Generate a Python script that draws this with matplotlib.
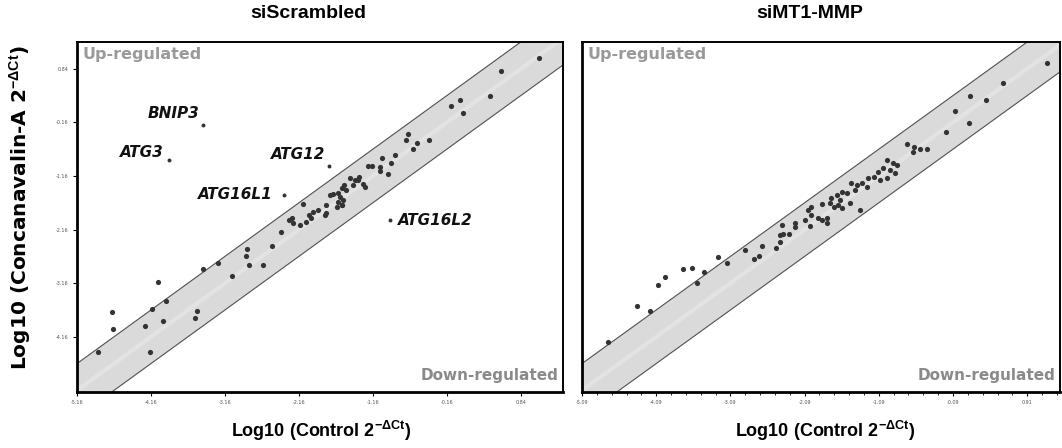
import numpy as np
import matplotlib
matplotlib.use("Agg")
import matplotlib.pyplot as plt
from matplotlib.ticker import FixedLocator

# ---- data (log10 2^-dCt) ----
# siScrambled: points inside / near the band
scr_x = [1.08, 0.57, -0.11, 0.02, 0.06, 0.43, -0.68, -0.71, -0.56, -0.40, -0.62,
         -0.86, -1.03, -0.91, -1.07, -1.22, -1.17, -1.07, -0.96,
         -1.35, -1.40, -1.47, -1.29, -1.27, -1.55, -1.58, -1.52, -1.63, -1.70,
         -1.61, -1.56, -1.74, -1.58, -1.65, -1.43, -1.36,
         -2.10, -1.79, -1.63, -1.58, -2.26, -2.30, -2.24, -2.15, -2.06, -2.03,
         -1.97, -1.90, -1.99, -1.81, -1.79, -2.40, -2.52, -2.86, -2.87, -2.84,
         -2.65, -3.07, -3.26, -3.45, -4.06, -3.95, -4.14, -4.69, -4.67, -4.24,
         -4.00, -3.54, -3.56, -4.87, -4.17]
scr_y = [1.05, 0.80, 0.15, 0.26, 0.01, 0.33, -0.38, -0.49, -0.54, -0.49, -0.66,
         -0.77, -0.82, -0.91, -0.99, -0.97, -0.97, -1.06, -1.13,
         -1.17, -1.24, -1.20, -1.31, -1.36, -1.33, -1.39, -1.42, -1.48, -1.50,
         -1.55, -1.61, -1.51, -1.70, -1.73, -1.33, -1.24,
         -1.68, -1.70, -1.64, -1.70, -1.95, -1.98, -2.04, -2.07, -2.01, -1.89,
         -1.83, -1.80, -1.95, -1.89, -1.85, -2.20, -2.46, -2.52, -2.65, -2.82,
         -2.82, -3.03, -2.79, -2.90, -3.13, -3.49, -3.64, -3.70, -4.02, -3.95,
         -3.87, -3.68, -3.81, -4.44, -4.44]

# siScrambled: labelled genes
gene_names = ["BNIP3", "ATG3", "ATG12", "ATG16L1", "ATG16L2"]
gene_x = [-3.45, -3.91, -1.75, -2.36, -0.93]
gene_y = [-0.21, -0.87, -0.97, -1.51, -1.99]

# siMT1-MMP
mmp_x = [1.17, 0.59, 0.14, 0.36, -0.06, 0.13, -0.18, -0.71, -0.62, -0.53, -0.44, -0.63,
         -0.98, -0.90, -0.85, -1.03, -0.94, -0.87, -1.10, -1.16, -1.07, -0.98,
         -1.23, -1.32, -1.25, -1.39, -1.46, -1.41, -1.52, -1.59, -1.66, -1.61,
         -1.73, -1.48, -1.75, -1.86, -1.34, -2.00, -1.70, -1.64, -1.59,
         -2.04, -2.00, -1.91, -1.79, -1.79, -2.08, -2.02, -1.86, -2.22, -2.22,
         -2.30, -2.38, -2.42, -2.40, -2.42, -2.47, -2.67, -2.70, -2.77, -2.89,
         -3.14, -3.26, -3.45, -3.54, -3.61, -3.73, -3.97, -4.06, -4.35, -4.18, -4.74]
mmp_y = [1.01, 0.64, 0.40, 0.33, 0.13, -0.11, -0.27, -0.50, -0.54, -0.59, -0.59, -0.64,
         -0.79, -0.85, -0.88, -0.95, -0.98, -1.03, -1.01, -1.10, -1.16, -1.13,
         -1.13, -1.22, -1.29, -1.26, -1.23, -1.35, -1.41, -1.38, -1.44, -1.54,
         -1.51, -1.60, -1.60, -1.61, -1.72, -1.66, -1.66, -1.63, -1.68,
         -1.72, -1.82, -1.88, -1.88, -1.96, -1.91, -2.02, -1.91, -1.97, -2.05,
         -2.17, -2.17, -2.19, -2.00, -2.33, -2.44, -2.40, -2.58, -2.64, -2.47,
         -2.72, -2.60, -2.88, -3.09, -2.81, -2.83, -2.97, -3.12, -3.52, -3.60, -4.18]

scr_ticks = [-5.16, -4.16, -3.16, -2.16, -1.16, -0.16, 0.84]
mmp_ticks = [-5.09, -4.09, -3.09, -2.09, -1.09, -0.09, 0.91]
band = 0.5  # fold-change boundary in log10 units

titles = ["siScrambled", "siMT1-MMP"]

plt.rcParams['mathtext.fontset'] = 'custom'
plt.rcParams['mathtext.rm'] = 'Liberation Sans'
plt.rcParams['mathtext.bf'] = 'Liberation Sans:bold'
plt.rcParams['mathtext.it'] = 'Liberation Sans:italic'

fig = plt.figure(figsize=(10.62, 4.48), dpi=100)
ax1 = fig.add_axes([0.0725, 0.125, 0.4576, 0.7813])
ax2 = fig.add_axes([0.548, 0.125, 0.450, 0.7813])


def draw_panel(ax, xs, ys, ticks, xlim, ylim, show_y):
    ax.set_xlim(xlim)
    ax.set_ylim(ylim)
    lo = min(xlim[0], ylim[0]) - 1
    hi = max(xlim[1], ylim[1]) + 1
    line = np.array([lo, hi])
    ax.fill_between(line, line - band, line + band, color='#dadada', lw=0, zorder=1)
    ax.plot(line, line, color='#e3e3e3', lw=3, zorder=1.5)
    ax.plot(line, line + band, color='#505050', lw=0.8, zorder=2)
    ax.plot(line, line - band, color='#505050', lw=0.8, zorder=2)
    ax.scatter(xs, ys, s=14, color='#333333', lw=0, zorder=3)

    ax.set_xticks(ticks)
    ax.set_xticklabels(['%.2f' % t for t in ticks])
    if show_y:
        ax.set_yticks(ticks[1:])
        ax.set_yticklabels(['%.2f' % t for t in ticks[1:]])
    else:
        ax.set_yticks([])
    ax.tick_params(labelsize=3.5, labelcolor='#555555', length=3, width=0.8, pad=3)
    for side in ['left', 'bottom']:
        ax.spines[side].set_linewidth(2.0)
    for side in ['top', 'right']:
        ax.spines[side].set_linewidth(1.4)

    ax.text(0.012, 0.985, 'Up-regulated', transform=ax.transAxes, ha='left', va='top',
            fontsize=11.5, fontweight='bold', color='#9a9a9a', family='DejaVu Sans')
    ax.text(0.99, 0.025, 'Down-regulated', transform=ax.transAxes, ha='right', va='bottom',
            fontsize=11, fontweight='bold', color='#8a8a8a', family='DejaVu Sans')


draw_panel(ax1, scr_x, scr_y, scr_ticks, (-5.16, 1.41), (-5.19, 1.34), True)
draw_panel(ax2, mmp_x, mmp_y, mmp_ticks, (-5.09, 1.35), (-5.12, 1.41), False)

ax2.xaxis.set_minor_locator(FixedLocator(np.arange(-5.09, 1.35, 0.2)))
ax2.tick_params(axis='x', which='minor', length=2, width=0.6)

# gene labels on the siScrambled panel
ax1.scatter(gene_x, gene_y, s=8, color='#333333', lw=0, zorder=3)
offsets = [(-3, 8, 'right'), (-4, 6, 'right'), (-3, 8, 'right'), (-8, 0, 'right'), (6, 0, 'left')]
for name, gx, gy, (dx, dy, ha) in zip(gene_names, gene_x, gene_y, offsets):
    ax1.annotate(name, (gx, gy), xytext=(dx, dy), textcoords='offset points',
                 ha=ha, va='center', fontsize=11, fontweight='bold', style='italic',
                 family='DejaVu Sans', color='#111111')

fig.text(308 / 1062, 1 - 14 / 448, titles[0], ha='center', va='center',
         fontsize=14, fontweight='bold', family='Liberation Sans')
fig.text(810 / 1062, 1 - 14 / 448, titles[1], ha='center', va='center',
         fontsize=14, fontweight='bold', family='Liberation Sans')

xlab = r'Log10 (Control 2$^{\mathbf{-\Delta Ct}}$)'
for cx in [321, 825]:
    fig.text(cx / 1062, 1 - 431 / 448, xlab, ha='center', va='center',
             fontsize=13, fontweight='bold', stretch='condensed',
             family=['Liberation Sans Narrow', 'Liberation Sans'])
fig.text(20 / 1062, 1 - 208 / 448, r'Log10 (Concanavalin-A 2$^{\mathbf{-\Delta Ct}}$)',
         rotation=90, ha='center', va='center', fontsize=14.5, fontweight='bold',
         family='DejaVu Sans')

fig.savefig('out.png', dpi=100)
